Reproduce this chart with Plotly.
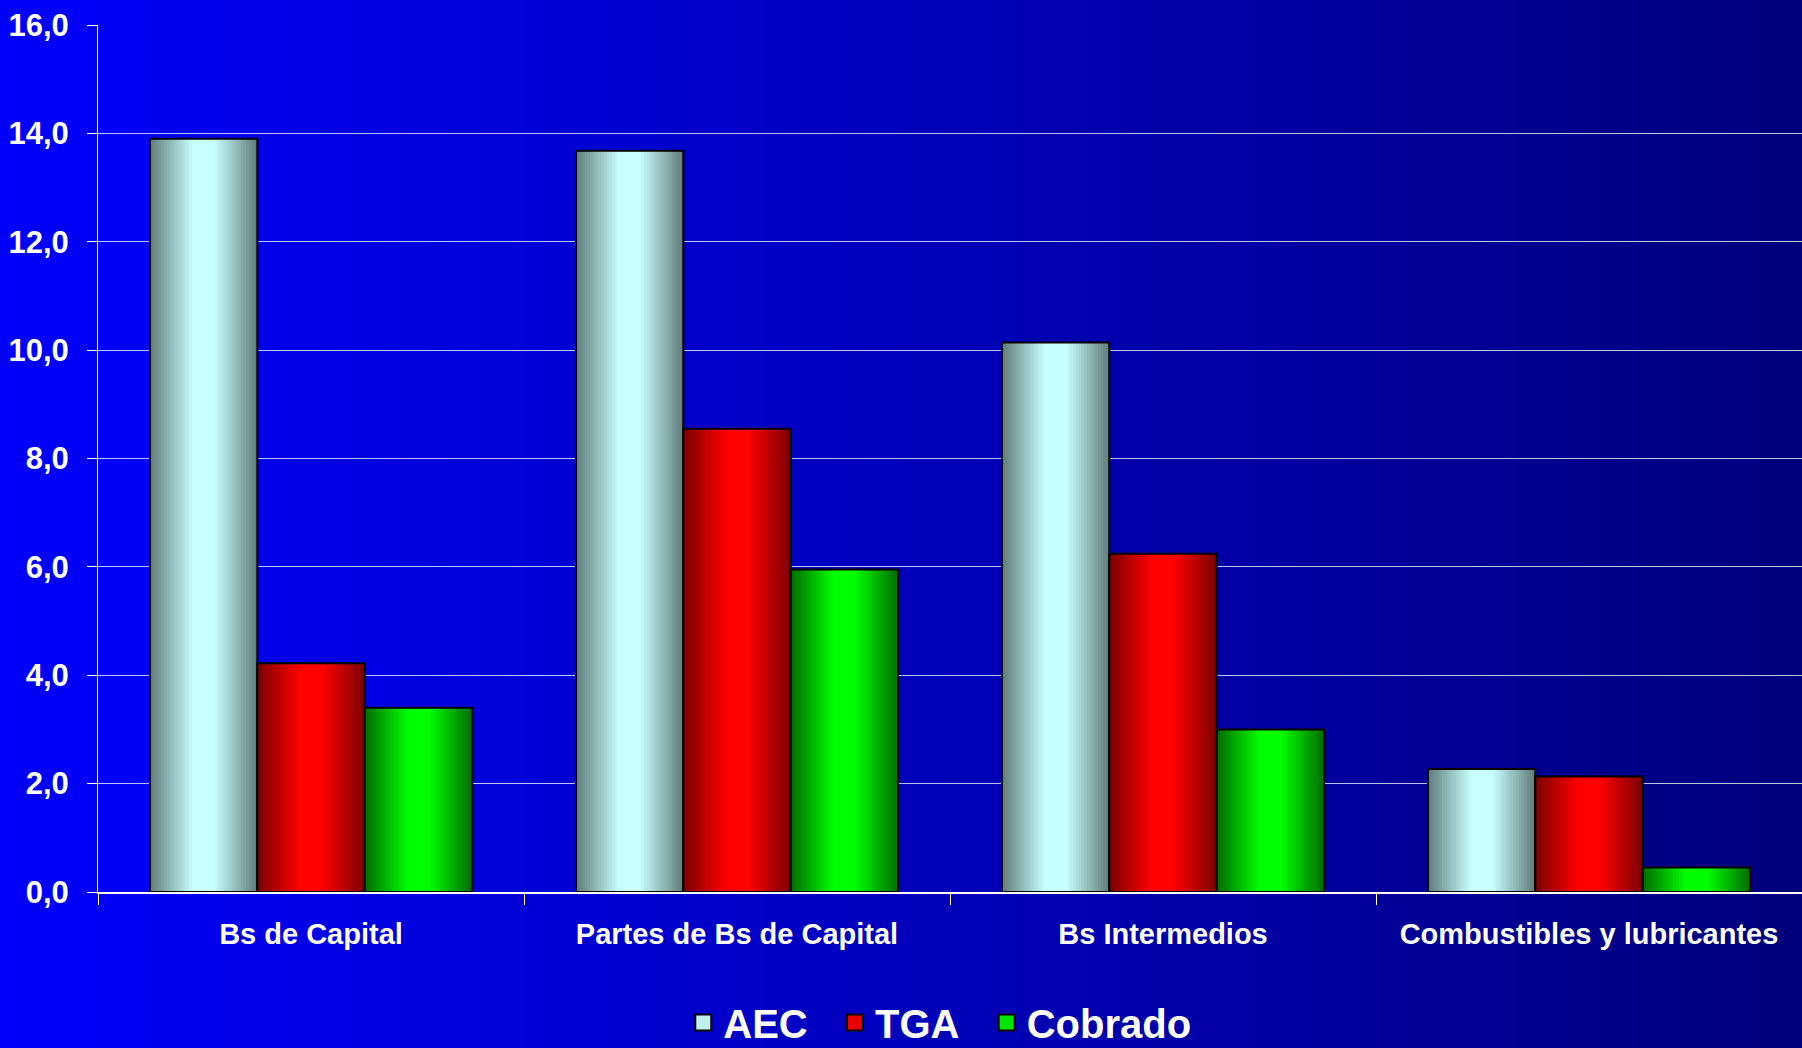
import plotly.graph_objects as go

categories = ["Bs de Capital", "Partes de Bs de Capital", "Bs Intermedios", "Combustibles y lubricantes"]
series_names = ["AEC", "TGA", "Cobrado"]
aec = [13.9, 13.68, 10.14, 2.27]
tga = [4.22, 8.55, 6.24, 2.13]
cobrado = [3.4, 5.95, 3.0, 0.45]
y_ticks = [0, 2, 4, 6, 8, 10, 12, 14, 16]

series_values = [aec, tga, cobrado]
# (edge colour, centre colour) for the cylinder-like shading
shades = [((98, 128, 126), (200, 255, 255)),
          ((128, 0, 0), (255, 0, 0)),
          ((0, 112, 0), (0, 255, 0))]
legend_colors = ["rgb(190,240,240)", "rgb(235,0,0)", "rgb(0,230,0)"]
legend_pad = ["\u00a0\u00a0", "\u00a0\u00a0", ""]

FONT = "Liberation Sans, Arial, sans-serif"
bar_w = 0.252
n_layers = 16
core = 0.22

fig = go.Figure()

for s, (name, vals) in enumerate(zip(series_names, series_values)):
    left = -1.5 * bar_w + s * bar_w
    edge, center = shades[s]
    for k in range(n_layers):
        frac = 1 - (k / (n_layers - 1)) * (1 - core)
        w = bar_w * frac
        off = left + (bar_w - w) / 2
        t = k / (n_layers - 1)
        col = tuple(round(edge[i] + (center[i] - edge[i]) * t) for i in range(3))
        fig.add_trace(go.Bar(
            x=categories, y=vals, width=w, offset=off,
            marker=dict(color="rgb(%d,%d,%d)" % col, line=dict(width=0)),
            showlegend=False, hoverinfo="skip", legendgroup=name,
        ))
    # outline on top
    fig.add_trace(go.Bar(
        x=categories, y=vals, width=bar_w, offset=left, name=name,
        marker=dict(color="rgba(0,0,0,0)", line=dict(color="black", width=2)),
        showlegend=False, legendgroup=name,
    ))

for s, name in enumerate(series_names):
    fig.add_trace(go.Scatter(
        x=[None], y=[None], name=name + legend_pad[s], mode="markers",
        marker=dict(symbol="square", size=16, color=legend_colors[s],
                    line=dict(color="black", width=2)),
        showlegend=True, legendgroup=name, hoverinfo="skip",
    ))

# horizontal gradient background
shapes = []
n_strips = 120
x_start = -98 / 1704
for i in range(n_strips):
    a = x_start + (1 - x_start) * i / n_strips
    b = x_start + (1 - x_start) * (i + 1) / n_strips + 0.002
    t = (i + 0.5) / n_strips
    blue = round(252 - (252 - 124) * t)
    shapes.append(dict(type="rect", xref="paper", yref="paper", x0=a, x1=b,
                       y0=-0.3, y1=1.1, fillcolor="rgb(0,0,%d)" % blue,
                       line=dict(width=0), layer="below"))

fig.update_layout(
    width=1802, height=1048,
    margin=dict(l=98, r=0, t=25, b=156, autoexpand=False),
    barmode="overlay",
    paper_bgcolor="rgb(0,0,200)",
    plot_bgcolor="rgba(0,0,0,0)",
    separators=",.",
    shapes=shapes,
    font=dict(family=FONT, color="white"),
    showlegend=True,
    legend=dict(orientation="h", xanchor="center", x=0.494, yanchor="top", y=-0.113,
                font=dict(family=FONT, size=40, color="white", weight="bold"),
                bgcolor="rgba(0,0,0,0)", traceorder="normal"),
    xaxis=dict(
        type="category", categoryorder="array", categoryarray=categories,
        range=[-0.5, 3.5],
        showline=True, linecolor="white", linewidth=1.5,
        ticks="outside", tickson="boundaries", ticklen=11, tickcolor="white", tickwidth=1,
        tickfont=dict(family=FONT, size=29, color="white", weight="bold"),
        ticklabelstandoff=15, showgrid=False, zeroline=False,
    ),
    yaxis=dict(
        range=[0, 16], tickvals=y_ticks, tickformat=".1f",
        showline=True, linecolor="white", linewidth=1,
        ticks="outside", ticklen=10, tickcolor="white", tickwidth=1,
        tickfont=dict(family=FONT, size=31, color="white", weight="bold"),
        ticklabelstandoff=12,
        showgrid=True, gridcolor="rgba(255,255,255,0.75)", gridwidth=1,
        zeroline=False,
    ),
)

fig.write_html("out.html", config={"displayModeBar": False},
               post_script="document.body.style.margin='0px';document.body.style.overflow='hidden';")
